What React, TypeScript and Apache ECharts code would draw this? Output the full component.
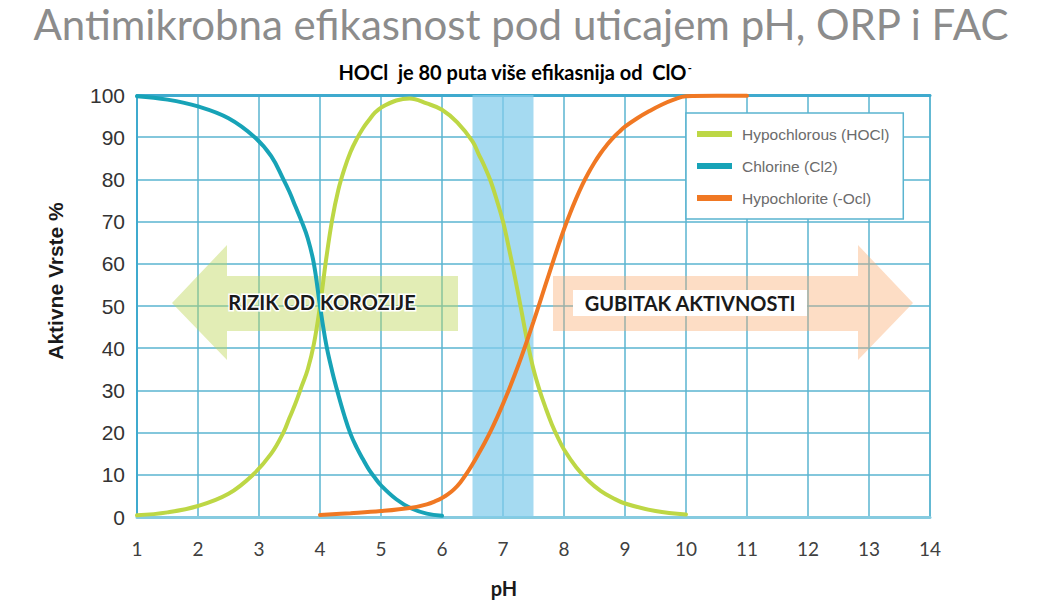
import React, { useEffect, useRef } from "react";
import * as echarts from "echarts";

// ---------- data ----------
const TITLE = "Antimikrobna efikasnost pod uticajem pH, ORP i FAC";
const SUBTITLE = "HOCl  je 80 puta više efikasnija od  ClO";
const SUBTITLE_SUP = "-";
const Y_NAME = "Aktivne Vrste %";
const X_NAME = "pH";
const LEFT_LABEL = "RIZIK OD KOROZIJE";
const RIGHT_LABEL = "GUBITAK AKTIVNOSTI";

const seriesNames = ["Hypochlorous (HOCl)", "Chlorine (Cl2)", "Hypochlorite (-Ocl)"];

const hoclPH = [1, 1.5, 2, 2.5, 2.9, 3.2, 3.4, 3.5, 3.6, 3.7, 3.8, 3.9, 4.0, 4.1, 4.2, 4.3, 4.4, 4.5, 4.6, 4.7, 4.8, 4.9, 5.0, 5.25, 5.47, 5.75, 6.0, 6.25, 6.5, 6.6, 6.7, 6.8, 6.9, 7.0, 7.1, 7.2, 7.3, 7.4, 7.5, 7.6, 7.7, 7.8, 7.9, 8.0, 8.2, 8.4, 8.6, 8.8, 9.0, 9.5, 10];
const hoclPct = [0.4, 1.1, 2.6, 5.5, 10, 15, 20, 23.5, 27, 31, 35, 41, 50, 61, 70.5, 77.5, 82.5, 86.5, 89.5, 92, 94, 95.8, 97, 98.7, 99.2, 98, 96.5, 93.5, 89, 86, 83, 79.5, 75, 70, 63.5, 56.5, 49, 41.5, 35, 30, 25.8, 22, 18.8, 16, 11.8, 8.6, 6.2, 4.5, 3.2, 1.4, 0.6];

const cl2PH = [1, 1.5, 2, 2.5, 2.93, 3.2, 3.4, 3.5, 3.6, 3.7, 3.8, 3.9, 4.0, 4.1, 4.2, 4.3, 4.4, 4.5, 4.6, 4.7, 4.8, 4.9, 5.0, 5.25, 5.5, 5.75, 6.0];
const cl2Pct = [99.7, 98.9, 97.3, 94.5, 90, 85.5, 80, 77, 73.5, 70, 66, 60, 50, 41, 34.5, 29, 24, 19.7, 16.5, 13.8, 11.3, 9.3, 7.5, 4.2, 2, 0.8, 0.3];

const oclPH = [4, 4.5, 5, 5.5, 5.75, 5.9, 6.0, 6.1, 6.2, 6.3, 6.4, 6.5, 6.6, 6.7, 6.8, 6.9, 7.0, 7.1, 7.2, 7.3, 7.4, 7.5, 7.6, 7.7, 7.8, 7.9, 8.0, 8.1, 8.2, 8.3, 8.4, 8.5, 8.6, 8.7, 8.8, 8.9, 9.0, 9.2, 9.4, 9.6, 9.8, 10, 10.5, 11];
const oclPct = [0.5, 0.9, 1.4, 2.2, 3.0, 3.8, 4.5, 5.4, 6.6, 8.2, 10.2, 12.5, 15, 17.6, 20.4, 23.5, 26.8, 30.3, 34, 37.9, 42, 46.3, 50.7, 55.2, 59.6, 64, 68.2, 72, 75.5, 78.7, 81.5, 84, 86.2, 88.1, 89.8, 91.2, 92.5, 94.5, 96.2, 97.7, 98.9, 99.7, 99.8, 99.8];

const bandStart = 6.5;
const bandEnd = 7.5;

const X_MIN = 1;
const X_MAX = 14;
const Y_MIN = 0;
const Y_MAX = 100;

// ---------- styles ----------
const GREEN = "#bdd745";
const TEAL = "#17a3b7";
const ORANGE = "#f07823";
const GRID = "#5ab4d0";
const CALIBRI = "Lato, 'Open Sans', sans-serif";
const ARIAL = "'Liberation Sans', Arial, sans-serif";

const zip = (xs: number[], ys: number[]) => xs.map((x, i) => [x, ys[i]]);

export default function App() {
  const ref = useRef<HTMLDivElement>(null);

  useEffect(() => {
    if (!ref.current) return;
    const chart = echarts.init(ref.current, null, { renderer: "svg" });

    const lineSeries = (name: string, color: string, data: number[][]) => ({
      name,
      type: "line",
      data,
      smooth: 0.4,
      showSymbol: false,
      symbol: "none",
      z: 3,
      lineStyle: { color, width: 4, cap: "round" },
      itemStyle: { color },
    });

    chart.setOption({
      animation: false,
      textStyle: { fontFamily: ARIAL },
      grid: {
        left: 137,
        right: 120,
        top: 95,
        bottom: 83,
        show: true,
        borderColor: GRID,
        borderWidth: 1.5,
        backgroundColor: "#fff",
      },
      legend: {
        orient: "vertical",
        left: 686,
        top: 113,
        data: seriesNames,
        icon: "rect",
        itemWidth: 35,
        itemHeight: 6,
        itemGap: 16,
        padding: [13, 14, 13, 11],
        backgroundColor: "#fff",
        borderColor: GRID,
        borderWidth: 1.5,
        borderRadius: 0,
        textStyle: {
          color: "#6b6b6b",
          fontSize: 15.5,
          lineHeight: 16,
          fontFamily: ARIAL,
          padding: [0, 0, 0, 5],
        },
      },
      xAxis: [
        {
          type: "value",
          min: X_MIN,
          max: X_MAX,
          interval: 1,
          axisLine: { show: true, lineStyle: { color: "#86cbe0", width: 3 } },
          axisTick: { show: false },
          axisLabel: {
            margin: 22,
            color: "#404040",
            fontSize: 19,
            fontFamily: CALIBRI,
          },
          splitLine: { show: true, lineStyle: { color: GRID, width: 1.5 } },
        },
        {
          type: "value",
          position: "top",
          min: X_MIN,
          max: X_MAX,
          interval: 1,
          axisLine: { show: true, lineStyle: { color: "#3faace", width: 3 } },
          axisTick: { show: false },
          axisLabel: { show: false },
          splitLine: { show: false },
        },
      ],
      yAxis: {
        type: "value",
        min: Y_MIN,
        max: Y_MAX,
        interval: 10,
        axisLine: { show: true, lineStyle: { color: "#3faace", width: 2 } },
        axisTick: { show: false },
        axisLabel: {
          margin: 12,
          color: "#333",
          fontSize: 21,
          fontFamily: ARIAL,
        },
        splitLine: { show: true, lineStyle: { color: GRID, width: 1.5 } },
      },
      series: [
        {
          name: "band",
          type: "line",
          data: [],
          z: 1,
          silent: true,
          markArea: {
            silent: true,
            itemStyle: { color: "rgba(130,204,235,0.72)" },
            data: [[{ xAxis: bandStart }, { xAxis: bandEnd }]],
          },
        },
        lineSeries(seriesNames[0], GREEN, zip(hoclPH, hoclPct)),
        lineSeries(seriesNames[1], TEAL, zip(cl2PH, cl2Pct)),
        lineSeries(seriesNames[2], ORANGE, zip(oclPH, oclPct)),
      ],
      graphic: [
        {
          type: "text",
          x: 521,
          y: 24,
          style: {
            text: TITLE,
            fill: "#8c8c8c",
            font: `42px ${CALIBRI}`,
            align: "center",
            verticalAlign: "middle",
          },
        },
        {
          type: "text",
          x: 515,
          y: 72,
          style: {
            text: `{a|${SUBTITLE}}{s|${SUBTITLE_SUP}}`,
            align: "center",
            verticalAlign: "middle",
            rich: {
              a: { fontFamily: CALIBRI, fontWeight: "bold", fontSize: 20, color: "#1a1a1a" },
              s: { fontFamily: CALIBRI, fontWeight: "bold", fontSize: 11, color: "#1a1a1a", padding: [0, 0, 10, 1] },
            },
          },
        },
        {
          type: "polygon",
          z: 1,
          silent: true,
          shape: {
            points: [
              [172, 303], [227, 245], [227, 276], [458, 276],
              [458, 331], [227, 331], [227, 360],
            ],
          },
          style: { fill: "rgba(190,215,90,0.45)" },
        },
        {
          type: "polygon",
          z: 1,
          silent: true,
          shape: {
            points: [
              [913, 303], [858, 245], [858, 276], [553, 276],
              [553, 331], [858, 331], [858, 360],
            ],
          },
          style: { fill: "rgba(250,170,110,0.4)" },
        },
        {
          type: "text",
          x: 322,
          y: 302,
          z: 10,
          style: {
            text: LEFT_LABEL,
            fill: "#1a1a1a",
            font: `bold 20px ${CALIBRI}`,
            align: "center",
            verticalAlign: "middle",
            stroke: "#fff",
            lineWidth: 3,
          },
        },
        {
          type: "rect",
          z: 9,
          silent: true,
          shape: { x: 573, y: 290, width: 234, height: 26 },
          style: { fill: "#fff" },
        },
        {
          type: "text",
          x: 690,
          y: 303,
          z: 10,
          style: {
            text: RIGHT_LABEL,
            fill: "#1a1a1a",
            font: `bold 20px ${CALIBRI}`,
            align: "center",
            verticalAlign: "middle",
          },
        },
        {
          type: "text",
          x: 55,
          y: 281,
          rotation: Math.PI / 2,
          style: {
            text: Y_NAME,
            fill: "#1a1a1a",
            font: `bold 21px ${ARIAL}`,
            align: "center",
            verticalAlign: "middle",
          },
        },
        {
          type: "text",
          x: 504,
          y: 588,
          style: {
            text: X_NAME,
            fill: "#1a1a1a",
            font: `bold 20px ${CALIBRI}`,
            align: "center",
            verticalAlign: "middle",
          },
        },
      ],
    });

    return () => chart.dispose();
  }, []);

  return (
    <div
      ref={ref}
      style={{ position: "absolute", left: 0, top: 0, width: 1050, height: 600, background: "#fff" }}
    />
  );
}
